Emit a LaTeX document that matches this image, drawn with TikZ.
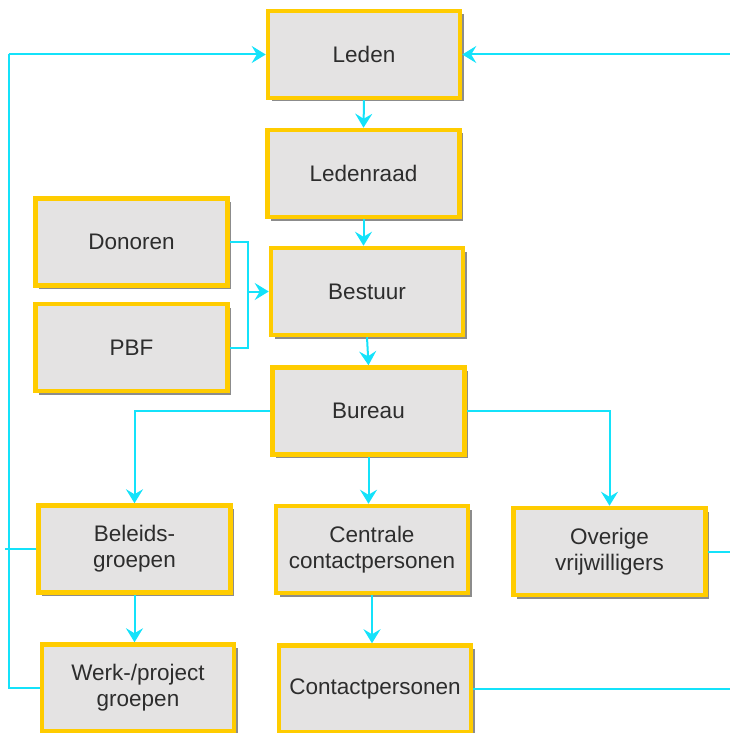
\documentclass[tikz,border=0pt]{standalone}
\usepackage{fontspec}
\setmainfont{Liberation Sans}
\usetikzlibrary{arrows.meta,shadows}
\definecolor{boxgold}{RGB}{255,204,0}
\definecolor{boxfill}{RGB}{228,227,227}
\definecolor{linkcyan}{RGB}{20,226,250}
\definecolor{txtgray}{RGB}{45,45,45}
\definecolor{shadowgray}{RGB}{140,140,140}
\tikzset{
  orgbox/.style={draw=boxgold, line width=4.5pt, fill=boxfill,
    minimum width=192pt, minimum height=87pt, inner sep=0pt,
    align=center, text=txtgray, font=\fontsize{22.5}{26}\selectfont,
    drop shadow={shadow xshift=3.5pt, shadow yshift=-3.5pt, fill=shadowgray, opacity=1}},
  link/.style={draw=linkcyan, line width=2pt},
  arr/.style={link, -{Stealth[length=14pt,width=17pt,inset=5pt]}}
}
\begin{document}
\begin{tikzpicture}[x=1pt,y=-1pt]
\useasboundingbox (0,0) rectangle (729,733);
% boxes
\node[orgbox] (leden)    at (364,54.5)   {Leden};
\node[orgbox] (raad)     at (363.5,173.5) {Ledenraad};
\node[orgbox] (donoren)  at (131.5,242)  {Donoren};
\node[orgbox] (pbf)      at (131.5,347.5) {PBF};
\node[orgbox] (bestuur)  at (367,291.5)  {Bestuur};
\node[orgbox] (bureau)   at (368.5,411)  {Bureau};
\node[orgbox] (beleid)   at (134.5,549)  {Beleids-\\groepen};
\node[orgbox] (centraal) at (372,549.5)  {Centrale\\contactpersonen};
\node[orgbox] (overig)   at (609.5,551.5) {Overige\\vrijwilligers};
\node[orgbox] (werk)     at (138,688)    {Werk-/project\\groepen};
\node[orgbox] (contact)  at (375,689)    {Contactpersonen};
% helper points for the feedback loops
\coordinate (lx) at (8.5,0);
\coordinate (rx) at (735,0);
\coordinate (jn) at (248,0);
% main chain
\draw[arr] (leden.south) -- (raad.north);
\draw[arr] (raad.south) -- (raad.south |- bestuur.north);
\draw[arr] (bestuur.south) -- (bureau.north);
\draw[arr] (bureau.south) -- (bureau.south |- centraal.north);
\draw[arr] (beleid.south) -- (beleid.south |- werk.north);
\draw[arr] (centraal.south) -- (centraal.south |- contact.north);
% Bureau branches
\draw[arr] (bureau.west) -| (beleid.north);
\draw[arr] (bureau.east) -| (overig.north);
% Donoren and PBF into Bestuur
\draw[link] (donoren.east) -- (jn |- donoren.east) -- (jn |- pbf.east) -- (pbf.east);
\draw[arr] (jn |- bestuur.west) -- (bestuur.west);
% left loop back to Leden
\draw[link] (werk.west) -- (lx |- werk.west) -- (lx |- leden.west);
\draw[arr] (lx |- leden.west) -- (leden.west);
\draw[link] (beleid.west) -- ([xshift=-4pt]lx |- beleid.west);
% right loop back to Leden
\draw[arr] (rx |- leden.east) -- (leden.east);
\draw[link] (overig.east) -- (rx |- overig.east);
\draw[link] (contact.east) -- (rx |- contact.east);
\end{tikzpicture}
\end{document}
